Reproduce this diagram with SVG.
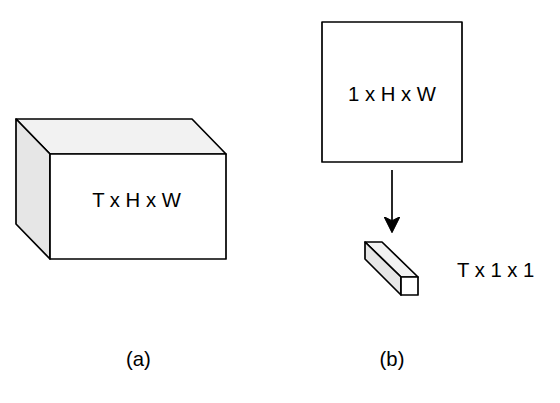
<svg xmlns="http://www.w3.org/2000/svg" width="560" height="403" viewBox="0 0 560 403">
<style>
.s{stroke:#000;stroke-width:1.7;stroke-linejoin:round}
.front{fill:#fff}
.top{fill:#f2f2f2}
.side{fill:#e6e6e6}
.t{font-family:"Liberation Sans",Arial,sans-serif;font-size:20.3px;fill:#000}
</style>
<defs>
<marker id="arr" markerUnits="userSpaceOnUse" markerWidth="16" markerHeight="16" viewBox="0 0 16 16" refX="11.3" refY="8" orient="auto">
<path d="M16 8 L0 0 L4 8 L0 16 Z" fill="#000" stroke="#000" stroke-width="1"/>
</marker>
</defs>
<rect width="560" height="403" fill="#fff"/>
<g id="cube-a">
<polygon class="s top" points="16,119 192,119 226,154 50,154"/>
<polygon class="s side" points="16,119 50,154 50,259 16,224"/>
<rect class="s front" x="50" y="154" width="176" height="105"/>
<text class="t" x="136.5" y="206.7" text-anchor="middle">T x H x W</text>
</g>
<g id="square-b">
<rect class="s front" x="322" y="22" width="140" height="140"/>
<text class="t" x="392" y="100.7" text-anchor="middle">1 x H x W</text>
</g>
<g id="bar-b">
<polygon class="s top" points="365,242 382,242 418,277 401,277"/>
<polygon class="s side" points="365,242 401,277 401,295 365,259"/>
<rect class="s front" x="401" y="277" width="17" height="18"/>
</g>
<g id="label-bar">
<text class="t" x="457" y="277.3">T x 1 x 1</text>
</g>
<g id="connectors">
<line x1="392" y1="170" x2="392" y2="228" stroke="#000" stroke-width="1.7" marker-end="url(#arr)"/>
</g>
<g id="captions">
<text class="t" x="138.3" y="365.5" text-anchor="middle">(a)</text>
<text class="t" x="392" y="365.5" text-anchor="middle">(b)</text>
</g>
</svg>
